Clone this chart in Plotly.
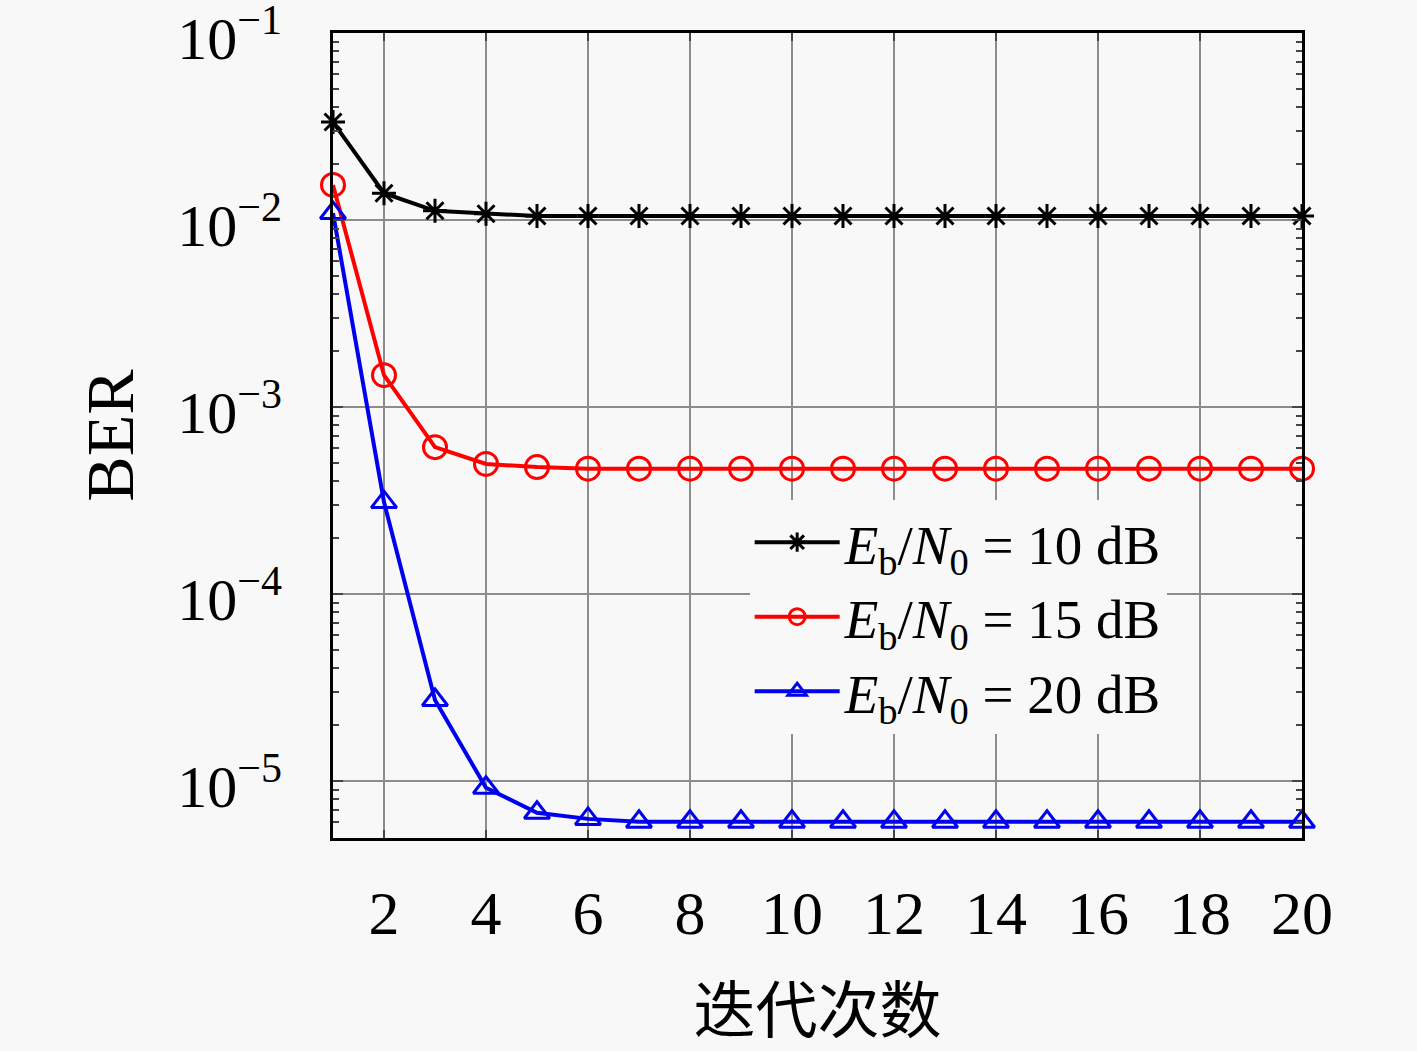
import plotly.graph_objects as go

iterations = list(range(1, 21))
ber_10db = [0.0334, 0.0139, 0.0112, 0.0108, 0.0105] + [0.0105] * 15
ber_15db = [0.0154, 0.00148, 6.1e-4, 4.96e-4, 4.77e-4] + [4.68e-4] * 15
ber_20db = [0.0109, 3.1e-4, 2.71e-5, 9.2e-6, 6.76e-6, 6.27e-6] + [6.05e-6] * 14

names = ["<i>E</i><sub>b</sub>/<i>N</i><sub>0</sub> = 10 dB",
         "<i>E</i><sub>b</sub>/<i>N</i><sub>0</sub> = 15 dB",
         "<i>E</i><sub>b</sub>/<i>N</i><sub>0</sub> = 20 dB"]

x_ticks = list(range(2, 21, 2))
y_tickvals = [1e-1, 1e-2, 1e-3, 1e-4, 1e-5]
y_ticktext = ["10<sup>−1</sup>", "10<sup>−2</sup>", "10<sup>−3</sup>", "10<sup>−4</sup>", "10<sup>−5</sup>"]
y_minor = [m * 10.0 ** e for e in range(-6, -1) for m in range(2, 10)]

bg = "#f8f8f8"
serif = "Liberation Serif, DejaVu Serif, serif"

fig = go.Figure()
fig.add_trace(go.Scatter(x=iterations, y=ber_10db, name=names[0], mode="lines+markers",
                         line=dict(color="black", width=4),
                         marker=dict(symbol="asterisk-open", size=20, line=dict(color="black", width=3)),
                         cliponaxis=False))
fig.add_trace(go.Scatter(x=iterations, y=ber_15db, name=names[1], mode="lines+markers",
                         line=dict(color="#ff0000", width=4),
                         marker=dict(symbol="circle-open", size=23, color="#ff0000", line=dict(width=3)),
                         cliponaxis=False))
fig.add_trace(go.Scatter(x=iterations, y=ber_20db, name=names[2], mode="lines+markers",
                         line=dict(color="#0000ee", width=4),
                         marker=dict(symbol="triangle-up-open", size=22, color="#0000ee", line=dict(width=3)),
                         cliponaxis=False))

fig.update_layout(
    width=1417, height=1051,
    margin=dict(l=333, r=115, t=33, b=213, autoexpand=False),
    paper_bgcolor=bg, plot_bgcolor=bg,
    font=dict(family=serif, size=60, color="black"),
    legend=dict(x=0.43, y=0.42, xanchor="left", yanchor="top",
                bgcolor=bg, borderwidth=0, itemwidth=85,
                font=dict(family=serif, size=55, color="black"), tracegroupgap=0),
)
fig.update_xaxes(range=[1, 20], tickvals=x_ticks, ticks="inside", ticklen=8, tickwidth=2,
                 tickfont=dict(family=serif, size=62, color="black"), automargin=False,
                 showgrid=True, gridcolor="#8c8c8c", gridwidth=1.5,
                 showline=True, linecolor="black", linewidth=3, mirror="ticks",
                 ticklabelstandoff=19, zeroline=False,
                 title=dict(text="迭代次数", font=dict(family="Noto Sans CJK SC", size=62, color="black"),
                            standoff=48))
fig.update_yaxes(type="log", range=[-5.305, -1], tickvals=y_tickvals, ticktext=y_ticktext,
                 ticks="inside", ticklen=10, tickwidth=2, ticklabeloverflow="allow",
                 ticklabelshift=5,
                 tickfont=dict(family=serif, size=60, color="black"), automargin=False,
                 minor=dict(tickvals=y_minor, ticks="inside", ticklen=6, tickwidth=2, showgrid=False),
                 showgrid=True, gridcolor="#8c8c8c", gridwidth=1.5,
                 showline=True, linecolor="black", linewidth=3, mirror="ticks",
                 ticklabelstandoff=36, zeroline=False,
                 title=dict(text="BER", font=dict(family=serif, size=68, color="black"), standoff=22))

fig.write_html("out.html", config={"displayModeBar": False},
               post_script="document.body.style.margin='0';")
